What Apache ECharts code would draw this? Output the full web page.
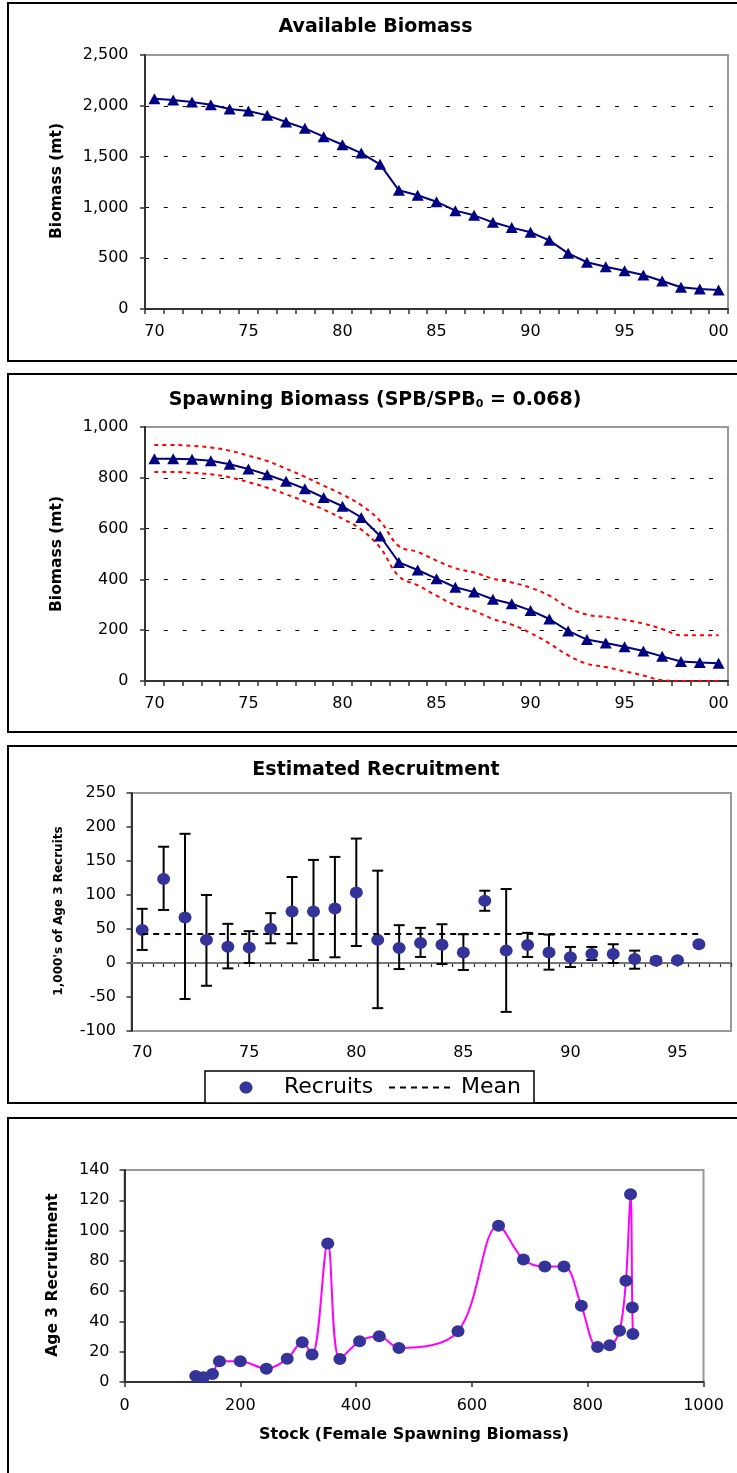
<!DOCTYPE html>
<html>
<head>
<meta charset="utf-8">
<script src="https://cdn.jsdelivr.net/npm/echarts@6/dist/echarts.min.js"></script>
<style>
html,body{margin:0;padding:0;background:#fff;}
#c{width:737px;height:1473px;}
</style>
</head>
<body>
<div id="c"></div>
<script>
// ---------- DATA ----------
const years = ['70','71','72','73','74','75','76','77','78','79','80','81','82','83','84','85','86','87','88','89','90','91','92','93','94','95','96','97','98','99','00'];
const availableBiomass = [2070,2057,2037,2011,1968,1949,1906,1840,1778,1696,1617,1535,1424,1168,1119,1056,968,922,853,801,755,676,548,460,416,377,335,276,214,197,187];
const spawningBiomass = [875,875,873,867,853,835,812,786,757,722,688,644,571,467,437,403,369,350,322,304,278,244,197,163,150,135,118,97,77,73,70];
const spawningUpper = [929,929,926,919,907,887,866,836,804,769,734,692,630,531,508,474,444,427,403,388,367,336,290,261,252,241,226,205,180,180,180];
const spawningLower = [823,823,819,814,802,783,761,735,707,675,639,596,525,412,377,336,298,276,244,222,189,148,101,68,55,38,22,3,0,0,0];

const recYears = ['70','71','72','73','74','75','76','77','78','79','80','81','82','83','84','85','86','87','88','89','90','91','92','93','94','95','96','97'];
const recruits = [48.7,123.5,67,34,24,22.6,50.2,75.8,75.8,80.2,103.8,34,22,29.5,27,15.3,91.5,18.2,26.6,15.3,8.4,13.3,13.3,5.9,3.4,3.9,27.6];
const recruitsHigh = [79.7,171,190,100,57.6,46.8,73.3,126.5,151.6,156,183,135.8,55.6,51.7,57,42.3,106.3,108.8,44.3,41.8,23.6,23.6,27.6,18.2,8,7,30];
const recruitsLow = [19.2,78,-53,-33.5,-7.9,0,29,29,4.4,8.4,25,-66.4,-8.9,8.9,-1.5,-10.3,76.8,-71.9,8.9,-9.8,-5.9,4.4,0,-8.4,-1,0,25];
const recruitMean = 43;

const srStock = [123,136,152,164,200,245,281,307,324,351,372,406,440,474,576,646,689,726,759,789,817,838,855,866,874,877,878];
const srRecruits = [4,3.1,5.3,13.7,13.7,8.8,15.4,26.2,18.1,91.5,15.2,26.9,30.2,22.5,33.5,103.2,80.9,76.3,76.3,50.3,23.1,24.2,33.9,66.8,124,49.2,31.7];

// ---------- STYLE ----------
const FONT = 'DejaVu Sans';
const AXIS_COLOR = '#333';
const BORDER = '#999';
const NAVY = '#000080';
const DOT = '#333399';

function catAxis(gridIndex, data, labelInterval, margin) {
  return {
    type: 'category', gridIndex: gridIndex, data: data, position: 'bottom',
    boundaryGap: true,
    axisLine: {show: true, onZero: false, lineStyle: {color: AXIS_COLOR, width: 2}},
    axisTick: {show: true, interval: 0, length: 5, lineStyle: {color: AXIS_COLOR, width: 1.5}},
    axisLabel: {interval: labelInterval, margin: margin, fontFamily: FONT, fontSize: 16, color: '#000'},
    splitLine: {show: false}
  };
}
function valAxis(gridIndex, min, max, interval, margin, opts) {
  const o = {
    type: 'value', gridIndex: gridIndex, min: min, max: max, interval: interval,
    axisLine: {show: true, onZero: false, lineStyle: {color: AXIS_COLOR, width: 2}},
    axisTick: {show: true, length: 5, lineStyle: {color: AXIS_COLOR, width: 1.5}},
    axisLabel: {margin: margin, fontFamily: FONT, fontSize: 16, color: '#000',
      formatter: function (v) { return v.toLocaleString('en-US'); }},
    splitLine: {show: false}
  };
  return Object.assign(o, opts || {});
}
const dashedSplit = {show: true, showMinLine: false, showMaxLine: false,
  lineStyle: {color: '#000', width: 1, type: [4, 14.8]}};

const gridBase = {show: true, borderColor: BORDER, borderWidth: 2, backgroundColor: 'transparent', containLabel: false};

const chart = echarts.init(document.getElementById('c'), null, {renderer: 'canvas'});

function txt(x, y, text, size, bold, rot, align) {
  const o = {type: 'text', x: x, y: y, z: 10, style: {text: text, fontFamily: FONT, fontSize: size,
    fontWeight: bold ? 'bold' : 'normal', fill: '#000', align: align || 'center', verticalAlign: 'middle'}};
  if (rot) o.rotation = rot;
  return o;
}

const option = {
  animation: false,
  backgroundColor: '#fff',
  grid: [
    Object.assign({left: 145, top: 55, width: 583, height: 254}, gridBase),
    Object.assign({left: 145, top: 427, width: 583, height: 254}, gridBase),
    Object.assign({left: 131.5, top: 793, width: 599.5, height: 238}, gridBase),
    Object.assign({left: 124.5, top: 1170, width: 579, height: 212}, gridBase)
  ],
  xAxis: [
    catAxis(0, years, 4, 15),
    catAxis(1, years, 4, 15),
    // panel 3: labels at the bottom
    {type: 'category', gridIndex: 2, data: recYears, position: 'bottom', boundaryGap: true,
      axisLine: {show: false, onZero: false}, axisTick: {show: false},
      axisLabel: {interval: 4, margin: 14, fontFamily: FONT, fontSize: 16, color: '#000'}},
    // panel 3: zero line with boundary ticks
    {type: 'category', gridIndex: 2, data: recYears, position: 'bottom', boundaryGap: true,
      axisLine: {show: true, onZero: true, onZeroAxisIndex: 2, lineStyle: {color: '#777', width: 2}},
      axisTick: {show: true, interval: 0, length: 4, lineStyle: {color: AXIS_COLOR, width: 1.2}},
      axisLabel: {show: false}},
    // panel 3: zero line with centre ticks
    {type: 'category', gridIndex: 2, data: recYears, position: 'bottom', boundaryGap: true,
      axisLine: {show: true, onZero: true, onZeroAxisIndex: 2, lineStyle: {color: '#777', width: 2}},
      axisTick: {show: true, interval: 0, alignWithLabel: true, length: 4, lineStyle: {color: AXIS_COLOR, width: 1.2}},
      axisLabel: {show: false}},
    valAxis(3, 0, 1000, 200, 16, {axisLabel: {margin: 16, fontFamily: FONT, fontSize: 16, color: '#000',
      formatter: function (v) { return String(v); }}})
  ],
  yAxis: [
    valAxis(0, 0, 2500, 500, 16.5, {splitLine: dashedSplit}),
    valAxis(1, 0, 1000, 200, 16.5, {splitLine: dashedSplit}),
    valAxis(2, -100, 250, 50, 15.5),
    valAxis(3, 0, 140, 20, 15, {axisLabel: {margin: 15, fontFamily: FONT, fontSize: 16, color: '#000',
      formatter: function (v) { return String(v); }}})
  ],
  series: [
    {
      name: 'Available Biomass', type: 'line', xAxisIndex: 0, yAxisIndex: 0,
      data: availableBiomass, symbol: 'triangle', symbolSize: [12, 11], showAllSymbol: true,
      itemStyle: {color: NAVY}, lineStyle: {color: NAVY, width: 2}
    },
    {
      name: 'Upper', type: 'line', xAxisIndex: 1, yAxisIndex: 1, data: spawningUpper,
      smooth: 0.4, symbol: 'none', lineStyle: {color: '#ff0000', width: 2, type: [4, 4]}
    },
    {
      name: 'Lower', type: 'line', xAxisIndex: 1, yAxisIndex: 1, data: spawningLower,
      smooth: 0.4, symbol: 'none', lineStyle: {color: '#ff0000', width: 2, type: [4, 4]}
    },
    {
      name: 'Spawning Biomass', type: 'line', xAxisIndex: 1, yAxisIndex: 1,
      data: spawningBiomass, symbol: 'triangle', symbolSize: [12, 11], showAllSymbol: true,
      itemStyle: {color: NAVY}, lineStyle: {color: NAVY, width: 2}
    },
    {
      name: 'ErrorBars', type: 'custom', xAxisIndex: 2, yAxisIndex: 2,
      data: recruits.map(function (v, i) { return [i, recruitsLow[i], recruitsHigh[i]]; }),
      encode: {x: 0, y: [1, 2]},
      z: 2,
      renderItem: function (params, api) {
        const xi = api.value(0);
        const pHi = api.coord([xi, api.value(2)]);
        const pLo = api.coord([xi, api.value(1)]);
        const w = 5.5;
        const st = {stroke: '#000', lineWidth: 2};
        return {type: 'group', children: [
          {type: 'line', shape: {x1: pHi[0], y1: pHi[1], x2: pLo[0], y2: pLo[1]}, style: st},
          {type: 'line', shape: {x1: pHi[0] - w, y1: pHi[1], x2: pHi[0] + w, y2: pHi[1]}, style: st},
          {type: 'line', shape: {x1: pLo[0] - w, y1: pLo[1], x2: pLo[0] + w, y2: pLo[1]}, style: st}
        ]};
      }
    },
    {
      name: 'Mean', type: 'line', xAxisIndex: 2, yAxisIndex: 2, data: [],
      symbol: 'none', lineStyle: {color: '#000', width: 2, type: [6, 5]}, z: 3,
      markLine: {
        silent: true, symbol: ['none', 'none'], label: {show: false},
        lineStyle: {color: '#000', width: 2, type: [6, 5]},
        data: [[{coord: [recYears[0], recruitMean]}, {coord: [recYears[recruits.length - 1], recruitMean]}]]
      }
    },
    {
      name: 'Recruits', type: 'scatter', xAxisIndex: 2, yAxisIndex: 2, data: recruits,
      symbol: 'circle', symbolSize: [13, 12], itemStyle: {color: DOT, opacity: 1}, z: 4,
      markLine: {
        silent: true, symbol: ['none', 'none'], label: {show: false}, z: 1,
        lineStyle: {color: '#777', width: 2, type: 'solid'},
        data: [{yAxis: 0}]
      }
    },
    {
      name: 'Stock-Recruitment', type: 'line', xAxisIndex: 5, yAxisIndex: 3,
      data: srStock.map(function (s, i) { return [s, srRecruits[i]]; }),
      smooth: 0.35, symbol: 'circle', symbolSize: [13, 12], showAllSymbol: true,
      itemStyle: {color: DOT}, lineStyle: {color: '#ff00ff', width: 2}
    }
  ],
  graphic: [
    {type: 'rect', shape: {x: 8, y: 3, width: 740, height: 358}, style: {fill: 'none', stroke: '#000', lineWidth: 2}},
    {type: 'rect', shape: {x: 8, y: 374, width: 740, height: 358}, style: {fill: 'none', stroke: '#000', lineWidth: 2}},
    {type: 'rect', shape: {x: 8, y: 746, width: 740, height: 357}, style: {fill: 'none', stroke: '#000', lineWidth: 2}},
    {type: 'rect', shape: {x: 8, y: 1118, width: 740, height: 400}, style: {fill: 'none', stroke: '#000', lineWidth: 2}},
    txt(375.5, 27, 'Available Biomass', 19, true),
    {type: 'text', x: 375, y: 400, z: 10, style: {
      text: '{a|Spawning Biomass (SPB/SPB}{s|0}{a| = 0.068)}',
      rich: {
        a: {fontFamily: FONT, fontSize: 19, fontWeight: 'bold', fill: '#000'},
        s: {fontFamily: FONT, fontSize: 11, fontWeight: 'bold', fill: '#000', verticalAlign: 'bottom'}
      },
      align: 'center', verticalAlign: 'middle'}},
    txt(376, 770, 'Estimated Recruitment', 19, true),
    txt(57, 181, 'Biomass (mt)', 15.5, true, Math.PI / 2),
    txt(57, 554, 'Biomass (mt)', 15.5, true, Math.PI / 2),
    txt(59, 911, "1,000's of Age 3 Recruits", 12, true, Math.PI / 2),
    txt(53, 1275, 'Age 3 Recruitment', 15.5, true, Math.PI / 2),
    txt(414, 1435, 'Stock (Female Spawning Biomass)', 16, true),
    // legend of the recruitment panel
    {type: 'rect', z: 9, shape: {x: 205, y: 1071, width: 329, height: 32}, style: {fill: '#fff', stroke: '#000', lineWidth: 1.5}},
    {type: 'ellipse', z: 10, shape: {cx: 246, cy: 1087.5, rx: 6.5, ry: 6}, style: {fill: DOT}},
    txt(284, 1087.5, 'Recruits', 22, false, 0, 'left'),
    {type: 'line', z: 10, shape: {x1: 389, y1: 1087.5, x2: 455, y2: 1087.5}, style: {stroke: '#000', lineWidth: 2, lineDash: [6, 5]}},
    txt(461, 1087.5, 'Mean', 22, false, 0, 'left')
  ]
};
chart.setOption(option);
</script>
</body>
</html>
